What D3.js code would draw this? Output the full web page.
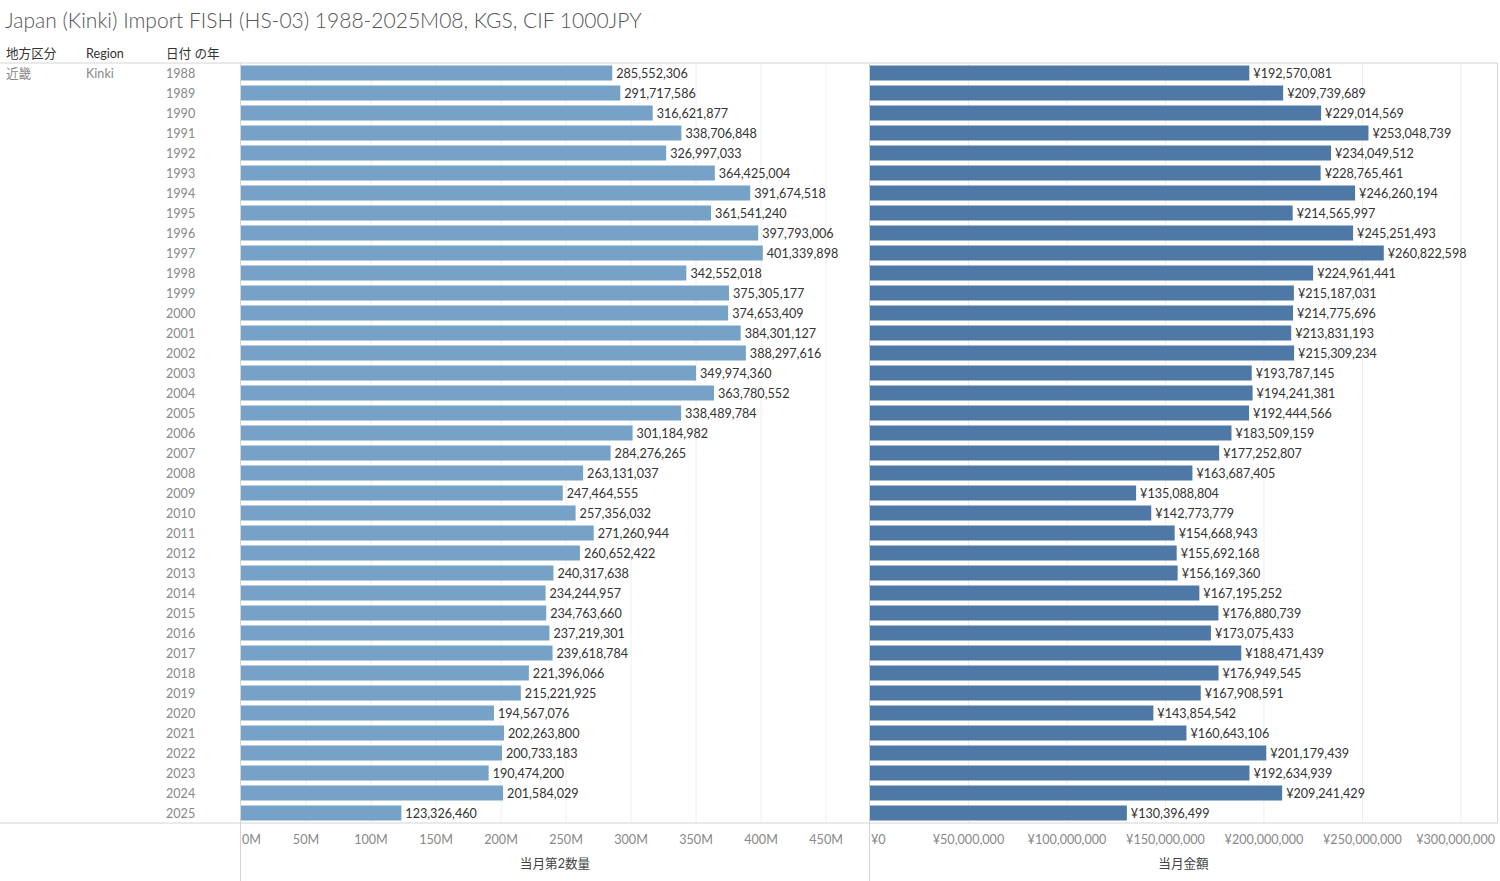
<!DOCTYPE html>
<html>
<head>
<meta charset="utf-8">
<script src="https://cdn.jsdelivr.net/npm/d3@7"></script>
<style>
  body { margin: 0; background: #fff; }
  text { font-family: Lato, "Noto Sans CJK JP", sans-serif; }
</style>
</head>
<body>
<svg id="chart" width="1500" height="881"></svg>
<script>
// years shown as rows
const years = [1988, 1989, 1990, 1991, 1992, 1993, 1994, 1995, 1996, 1997,
    1998, 1999, 2000, 2001, 2002, 2003, 2004, 2005, 2006, 2007,
    2008, 2009, 2010, 2011, 2012, 2013, 2014, 2015, 2016, 2017,
    2018, 2019, 2020, 2021, 2022, 2023, 2024, 2025];

// 当月第2数量 (KGS)
const quantity = [285552306, 291717586, 316621877, 338706848, 326997033,
    364425004, 391674518, 361541240, 397793006, 401339898,
    342552018, 375305177, 374653409, 384301127, 388297616,
    349974360, 363780552, 338489784, 301184982, 284276265,
    263131037, 247464555, 257356032, 271260944, 260652422,
    240317638, 234244957, 234763660, 237219301, 239618784,
    221396066, 215221925, 194567076, 202263800, 200733183,
    190474200, 201584029, 123326460];

// 当月金額 (CIF 1000JPY)
const amount = [192570081, 209739689, 229014569, 253048739, 234049512,
    228765461, 246260194, 214565997, 245251493, 260822598,
    224961441, 215187031, 214775696, 213831193, 215309234,
    193787145, 194241381, 192444566, 183509159, 177252807,
    163687405, 135088804, 142773779, 154668943, 155692168,
    156169360, 167195252, 176880739, 173075433, 188471439,
    176949545, 167908591, 143854542, 160643106, 201179439,
    192634939, 209241429, 130396499];

const qtyTicks = [0, 50e6, 100e6, 150e6, 200e6, 250e6, 300e6, 350e6, 400e6, 450e6];
const amtTicks = [0, 50e6, 100e6, 150e6, 200e6, 250e6, 300e6];

const TITLE = 'Japan (Kinki) Import FISH (HS-03) 1988-2025M08, KGS, CIF 1000JPY';

const svg = d3.select('#chart');
const TOP = 63, BOTTOM = 823;
const LINE = '#d4d4d4';
const FS = 12.6;

const y = d3.scaleBand().domain(years).range([TOP, BOTTOM]).paddingInner(0.25).paddingOuter(0.125);
const mid = (yr) => y(yr) + y.bandwidth() / 2 + 5;

svg.append('text')
    .attr('x', 5).attr('y', 28)
    .attr('font-size', 21).attr('font-weight', 300)
    .attr('fill', '#555')
    .text(TITLE);

// header row
const headers = [['地方区分', 6], ['Region', 86], ['日付 の年', 166]];
svg.selectAll('.hdr').data(headers).enter().append('text')
    .attr('x', (d) => d[1]).attr('y', 58)
    .attr('font-size', FS).attr('fill', '#333')
    .text((d) => d[0]);

svg.append('text').attr('x', 6).attr('y', mid(years[0]))
    .attr('font-size', FS).attr('fill', '#888').text('近畿');
svg.append('text').attr('x', 86).attr('y', mid(years[0]))
    .attr('font-size', FS).attr('fill', '#888').text('Kinki');
svg.selectAll('.yr').data(years).enter().append('text')
    .attr('x', 166).attr('y', (d) => mid(d))
    .attr('font-size', FS).attr('fill', '#888')
    .text((d) => d);

function panel(x0, x1, values, maxV, ticks, tickFmt, labelFmt, color, title) {
    const x = d3.scaleLinear().domain([0, maxV]).range([x0, x1]);
    const g = svg.append('g');
    g.selectAll('.grid').data(ticks.slice(1)).enter().append('line')
        .attr('x1', (d) => x(d)).attr('x2', (d) => x(d))
        .attr('y1', TOP).attr('y2', BOTTOM)
        .attr('stroke', '#efefef');
    g.selectAll('rect').data(values).enter().append('rect')
        .attr('x', x(0))
        .attr('y', (d, i) => y(years[i]))
        .attr('width', (d) => x(d) - x(0))
        .attr('height', y.bandwidth())
        .attr('fill', color);
    g.selectAll('.lbl').data(values).enter().append('text')
        .attr('x', (d) => x(d) + 4)
        .attr('y', (d, i) => mid(years[i]))
        .attr('font-size', FS).attr('fill', '#333')
        .text(labelFmt);
    // axis labels, kept inside the panel
    const tl = g.selectAll('.tick').data(ticks).enter().append('text')
        .attr('y', 844)
        .attr('font-size', FS).attr('fill', '#888')
        .text(tickFmt);
    tl.each(function(d) {
        const w = this.getComputedTextLength();
        let left = x(d) - w / 2;
        left = Math.max(x0 + 1, Math.min(x1 - w - 2, left));
        d3.select(this).attr('x', left);
    });
    g.append('text')
        .attr('x', (x0 + x1) / 2).attr('y', 868)
        .attr('text-anchor', 'middle')
        .attr('font-size', FS).attr('fill', '#444')
        .text(title);
}

const fmtInt = d3.format(',');
panel(241, 869, quantity, 483e6, qtyTicks,
    (d) => (d / 1e6) + 'M', (d) => fmtInt(d), '#76a2c8', '当月第2数量');
panel(870, 1497, amount, 318.3e6, amtTicks,
    (d) => '¥' + fmtInt(d), (d) => '¥' + fmtInt(d), '#4e79a7', '当月金額');

// frame lines
const lines = [
    [0, TOP, 1497, TOP],
    [0, BOTTOM, 1497, BOTTOM],
    [240.5, TOP, 240.5, 881],
    [869.5, TOP, 869.5, 881],
    [1497.5, TOP, 1497.5, BOTTOM],
];
svg.selectAll('.frame').data(lines).enter().append('line')
    .attr('x1', (d) => d[0]).attr('y1', (d) => d[1])
    .attr('x2', (d) => d[2]).attr('y2', (d) => d[3])
    .attr('stroke', LINE);
</script>
</body>
</html>
